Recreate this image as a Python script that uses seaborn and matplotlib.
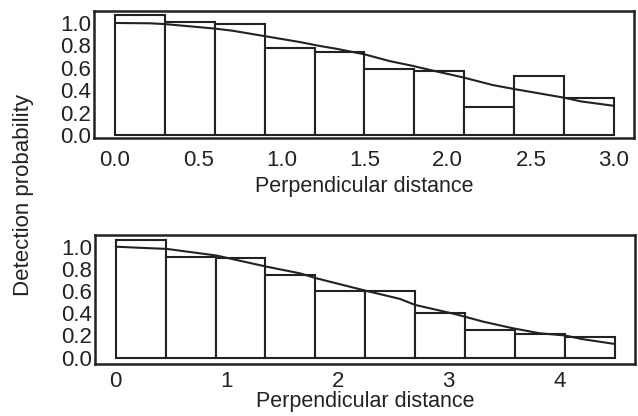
import numpy as np
import pandas as pd
import matplotlib
matplotlib.use("Agg")
import matplotlib.pyplot as plt
import seaborn as sns

# painel superior: 10 classes de 0.3
top_edges = [0.0, 0.3, 0.6, 0.9, 1.2, 1.5, 1.8, 2.1, 2.4, 2.7, 3.0]
top_heights = [1.07, 1.01, 0.99, 0.78, 0.74, 0.59, 0.575, 0.25, 0.53, 0.33]
top_curve_x = [0.0, 0.21, 0.3, 0.6, 0.71, 0.91, 1.11, 1.23, 1.33, 1.5, 1.65, 1.78,
               1.91, 2.09, 2.27, 2.4, 2.7, 2.8, 3.0]
top_curve_y = [1.0, 0.997, 0.99, 0.95, 0.93, 0.88, 0.83, 0.795, 0.77, 0.72, 0.66, 0.62,
               0.575, 0.515, 0.446, 0.41, 0.333, 0.30, 0.26]

# painel inferior: 10 classes de 0.45
bot_edges = [0.0, 0.45, 0.9, 1.35, 1.8, 2.25, 2.7, 3.15, 3.6, 4.05, 4.5]
bot_heights = [1.063, 0.91, 0.898, 0.748, 0.604, 0.604, 0.40, 0.247, 0.216, 0.19]
bot_curve_x = [0.0, 0.22, 0.46, 0.91, 1.36, 1.66, 1.81, 2.25, 2.56, 2.70, 3.07, 3.31,
               3.58, 3.82, 4.05, 4.2, 4.5]
bot_curve_y = [1.0, 0.99, 0.98, 0.92, 0.82, 0.76, 0.715, 0.604, 0.53, 0.475, 0.39, 0.325,
               0.265, 0.22, 0.20, 0.168, 0.123]

top_xticks = [0.0, 0.5, 1.0, 1.5, 2.0, 2.5, 3.0]
top_xlabels = ["0.0", "0.5", "1.0", "1.5", "2.0", "2.5", "3.0"]
bot_xticks = [0, 1, 2, 3, 4]
bot_xlabels = ["0", "1", "2", "3", "4"]
yticks = [0.0, 0.2, 0.4, 0.6, 0.8, 1.0]
ylabels = ["0.0", "0.2", "0.4", "0.6", "0.8", "1.0"]

sns.set_theme(style="white")
plt.rcParams["font.family"] = ["Liberation Sans", "DejaVu Sans"]
cor = "#222222"

fig = plt.figure(figsize=(6.38, 4.16), dpi=100)
ax1 = fig.add_axes([0.1473, 0.6683, 0.8464, 0.3053])
ax2 = fig.add_axes([0.149, 0.125, 0.8463, 0.31])


def painel(ax, edges, heights, cx, cy, xlim, ylim, xt, xl, xpad, lpad):
    centros = [(edges[i] + edges[i + 1]) / 2 for i in range(len(heights))]
    df = pd.DataFrame({"x": centros, "w": heights})
    sns.histplot(data=df, x="x", weights="w", bins=edges, ax=ax,
                 color="white", edgecolor=cor, linewidth=1.5, alpha=1)
    sns.lineplot(x=cx, y=cy, ax=ax, color=cor, linewidth=1.5)
    ax.set_xlim(*xlim)
    ax.set_ylim(*ylim)
    ax.set_xticks(xt)
    ax.set_xticklabels(xl)
    ax.set_yticks(yticks)
    ax.set_yticklabels(ylabels)
    ax.tick_params(axis="both", direction="in", length=2, width=1, color=cor,
                   labelsize=16, labelcolor=cor)
    ax.tick_params(axis="x", pad=xpad)
    ax.tick_params(axis="y", pad=2)
    for s in ax.spines.values():
        s.set_color(cor)
        s.set_linewidth(1.8)
    ax.set_ylabel("")
    ax.set_xlabel("Perpendicular distance", fontsize=15.5, color=cor, labelpad=lpad)


painel(ax1, top_edges, top_heights, top_curve_x, top_curve_y,
       (-0.126, 3.12), (-0.027, 1.107), top_xticks, top_xlabels, 9, 3)
painel(ax2, bot_edges, bot_heights, bot_curve_x, bot_curve_y,
       (-0.186, 4.68), (-0.057, 1.105), bot_xticks, bot_xlabels, 5, -1)

fig.text(0.037, 0.532, "Detection probability", rotation=90, ha="center", va="center",
         fontsize=16, color=cor)

fig.savefig("out.png", dpi=100)
